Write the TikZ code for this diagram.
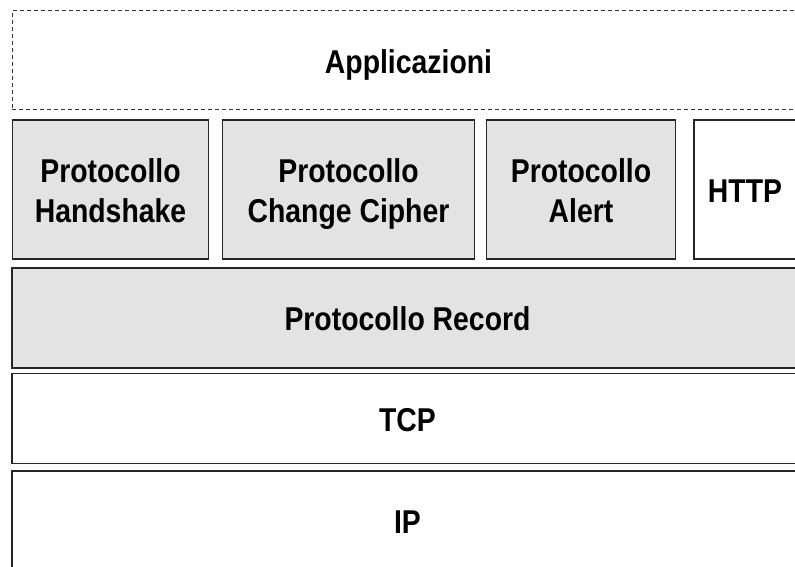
\documentclass[tikz,border=0pt]{standalone}
\usepackage{fontspec}
\setmainfont{Liberation Sans}
\newfontfamily\narrowsans[FakeStretch=0.86]{Liberation Sans}
\newcommand\stacktext[1]{\raisebox{-11pt}[0pt][0pt]{\begin{tabular}{@{}c@{}}#1\end{tabular}}}
\begin{document}
\begin{tikzpicture}[x=1pt,y=-1pt,
  layer/.style={draw=black!85,line width=1.4pt,rectangle,inner sep=0pt,
    font=\narrowsans\fontsize{33}{40}\selectfont\bfseries},
  graybox/.style={layer,fill=black!11},
  whitebox/.style={layer,fill=white},
  appbox/.style={layer,draw=black!80,line width=1pt,dash pattern=on 4pt off 3pt}]
\useasboundingbox (0,0) rectangle (795,567);
\clip (0,0) rectangle (795,567);
\node[appbox,minimum width=793pt,minimum height=99pt] (app) at (408.5,60.5) {\stacktext{Applicazioni}};
\node[graybox,minimum width=196pt,minimum height=139pt] (hs) at (110.5,189.5) {\stacktext{Protocollo\\Handshake}};
\node[graybox,minimum width=252pt,minimum height=139pt] (cc) at (348.5,189.5) {\stacktext{Protocollo\\Change Cipher}};
\node[graybox,minimum width=189pt,minimum height=139pt] (al) at (581,189.5) {\stacktext{Protocollo\\Alert}};
\node[whitebox,minimum width=102pt,minimum height=139pt] (http) at (745,189.5) {\stacktext{HTTP}};
\node[graybox,minimum width=791pt,minimum height=100pt] (rec) at (407.5,318) {\stacktext{Protocollo Record}};
\node[whitebox,minimum width=791pt,minimum height=90pt] (tcp) at (407.5,418.5) {\stacktext{TCP}};
\node[whitebox,minimum width=791pt,minimum height=100pt] (ip) at (407.5,521) {\stacktext{IP}};
\end{tikzpicture}
\end{document}
